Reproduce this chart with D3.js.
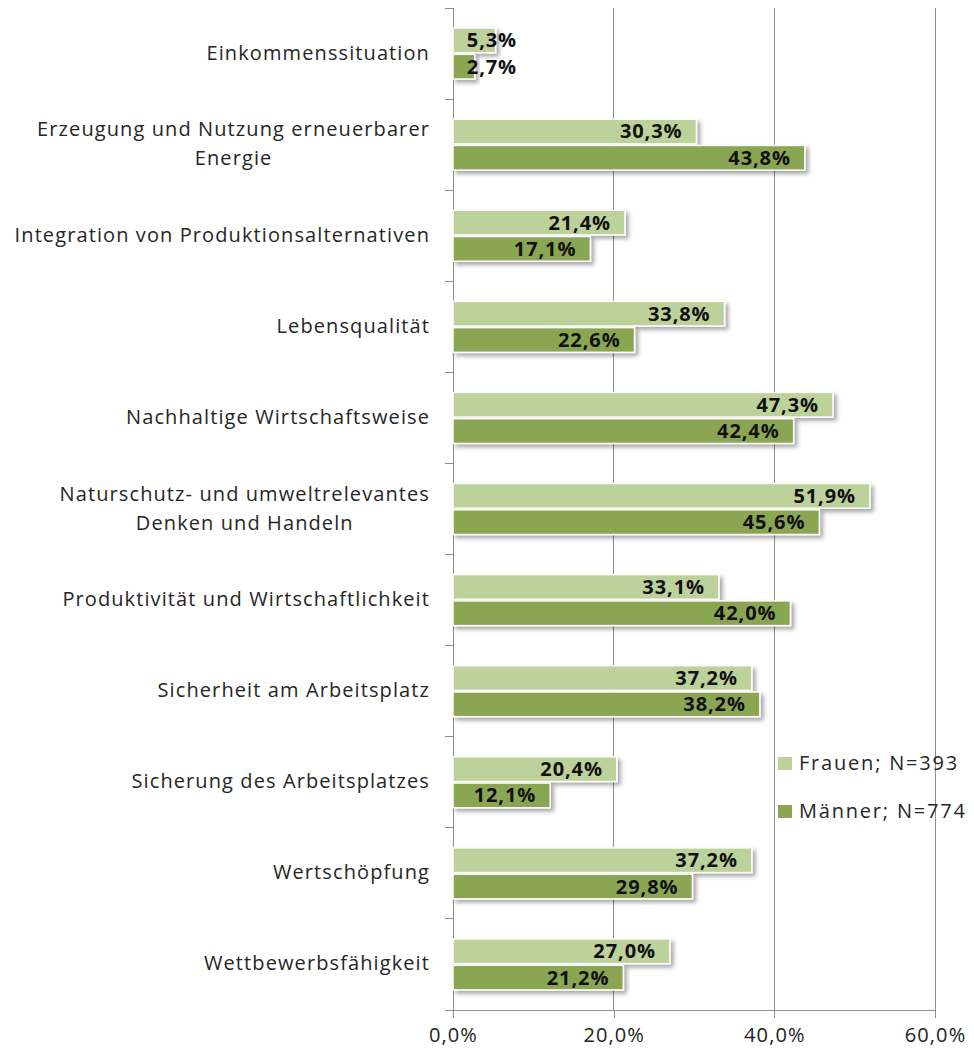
<!DOCTYPE html>
<html>
<head>
<meta charset="utf-8">
<script src="https://cdn.jsdelivr.net/npm/d3@7"></script>
<style>
  html, body { margin: 0; padding: 0; background: #fff; }
  svg { display: block; font-family: "Open Sans", Lato, sans-serif; }
</style>
</head>
<body>
<svg id="chart" width="974" height="1048"></svg>
<script>
// Kategorien (zeilenweise von oben nach unten)
const categories = [
  ["Einkommenssituation"],
  ["Erzeugung und Nutzung erneuerbarer", "Energie"],
  ["Integration von Produktionsalternativen"],
  ["Lebensqualität"],
  ["Nachhaltige Wirtschaftsweise"],
  ["Naturschutz- und umweltrelevantes", "Denken und Handeln"],
  ["Produktivität und Wirtschaftlichkeit"],
  ["Sicherheit am Arbeitsplatz"],
  ["Sicherung des Arbeitsplatzes"],
  ["Wertschöpfung"],
  ["Wettbewerbsfähigkeit"]
];

// Anteile in Prozent
const frauen = [5.3, 30.3, 21.4, 33.8, 47.3, 51.9, 33.1, 37.2, 20.4, 37.2, 27.0];
const maenner = [2.7, 43.8, 17.1, 22.6, 42.4, 45.6, 42.0, 38.2, 12.1, 29.8, 21.2];

const seriesNames = ["Frauen; N=393", "Männer; N=774"];
const xTicks = [0, 20, 40, 60];

const colors = ["#bdd19a", "#8ba653"];
const FONT = 20;
const SPACING = "1.1px";

const locale = d3.formatLocale({ decimal: ",", thousands: ".", grouping: [3], currency: ["", " €"] });
const fmt = locale.format(".1f");

const svg = d3.select("#chart");

const x = d3.scaleLinear().domain([0, 60]).range([453, 935]);
const y = d3.scaleBand().domain(d3.range(categories.length)).range([8, 1010]);
const inner = d3.scaleBand().domain([0, 1]).range([y.bandwidth() * 0.22, y.bandwidth() * 0.78]).paddingInner(0.06);

// Schatten der Balken
const defs = svg.append("defs");
const f = defs.append("filter").attr("id", "shadow").attr("x", "-10%").attr("y", "-30%").attr("width", "130%").attr("height", "190%");
f.append("feDropShadow").attr("dx", 3).attr("dy", 3).attr("stdDeviation", 2).attr("flood-color", "#000").attr("flood-opacity", 0.35);

// Gitterlinien
svg.append("g").selectAll("line").data(xTicks.filter(d => d > 0)).join("line")
  .attr("x1", d => x(d)).attr("x2", d => x(d))
  .attr("y1", y.range()[0]).attr("y2", y.range()[1])
  .attr("stroke", "#8c8c8c").attr("stroke-width", 1).attr("shape-rendering", "crispEdges");

// X-Achse
const xAxis = svg.append("g").attr("transform", `translate(0,${y.range()[1]})`)
  .call(d3.axisBottom(x).tickValues(xTicks).tickFormat(d => fmt(d) + "%").tickSize(8).tickSizeOuter(0))
  .call(g => g.select(".domain").remove());
xAxis.append("line").attr("x1", x(0) - 8).attr("x2", x(60)).attr("y1", 0).attr("y2", 0)
  .attr("stroke", "#8c8c8c").attr("shape-rendering", "crispEdges");
xAxis.selectAll(".tick line").attr("stroke", "#8c8c8c").attr("shape-rendering", "crispEdges");
xAxis.selectAll(".tick text").attr("font-size", FONT).attr("fill", "#222").attr("dy", "1.05em")
  .attr("letter-spacing", SPACING).attr("font-family", "'Open Sans', sans-serif");

// Y-Achse mit Teilstrichen an den Kategoriegrenzen
const yAxis = svg.append("g");
yAxis.append("line").attr("x1", x(0)).attr("x2", x(0)).attr("y1", y.range()[0]).attr("y2", y.range()[1])
  .attr("stroke", "#8c8c8c").attr("shape-rendering", "crispEdges");
yAxis.selectAll("line.tk").data(d3.range(categories.length + 1)).join("line").attr("class", "tk")
  .attr("x1", x(0) - 8).attr("x2", x(0))
  .attr("y1", i => y.range()[0] + i * y.step()).attr("y2", i => y.range()[0] + i * y.step())
  .attr("stroke", "#8c8c8c").attr("shape-rendering", "crispEdges");

// Kategoriebeschriftungen
const labelG = svg.append("g");
categories.forEach((lines, i) => {
  const cy = y(i) + y.bandwidth() / 2;
  const lh = 29;
  const t = labelG.append("text").attr("font-size", FONT).attr("fill", "#262626").attr("letter-spacing", SPACING);
  lines.forEach((ln, j) => {
    t.append("tspan").text(ln).attr("y", cy + 6 + (j - (lines.length - 1) / 2) * lh);
  });
  // Block rechtsbündig, Zeilen innerhalb zentriert
  const widths = t.selectAll("tspan").nodes().map(n => n.getComputedTextLength());
  const maxW = d3.max(widths);
  const cx = 430 - maxW / 2;
  t.attr("text-anchor", "middle").selectAll("tspan").attr("x", cx);
});

// Balken
const rows = categories.map((c, i) => [frauen[i], maenner[i]]);
const groups = svg.append("g").selectAll("g").data(rows).join("g")
  .attr("transform", (d, i) => `translate(0,${y(i)})`);

groups.selectAll("rect").data(d => d).join("rect")
  .attr("x", x(0))
  .attr("y", (d, j) => inner(j))
  .attr("width", d => x(d) - x(0))
  .attr("height", inner.bandwidth())
  .attr("fill", (d, j) => colors[j])
  .attr("stroke", "#fff").attr("stroke-width", 1.5)
  .attr("filter", "url(#shadow)");

// Wertebeschriftungen
groups.selectAll("text").data(d => d).join("text")
  .attr("x", d => Math.max(x(d) - 14, x(0) + 64))
  .attr("y", (d, j) => inner(j) + inner.bandwidth() / 2 + 7)
  .attr("text-anchor", "end")
  .attr("font-size", FONT).attr("font-weight", "bold").attr("fill", "#111")
  .attr("letter-spacing", "0.9px")
  .text(d => fmt(d) + "%");

// Legende
const legend = svg.append("g").selectAll("g").data(seriesNames).join("g")
  .attr("transform", (d, i) => `translate(778,${757 + i * 48})`);
legend.append("rect").attr("width", 14).attr("height", 13).attr("fill", (d, i) => colors[i]);
legend.append("text").attr("x", 21).attr("y", 13).attr("font-size", FONT).attr("fill", "#262626")
  .attr("letter-spacing", "1.8px").text(d => d);
</script>
</body>
</html>
